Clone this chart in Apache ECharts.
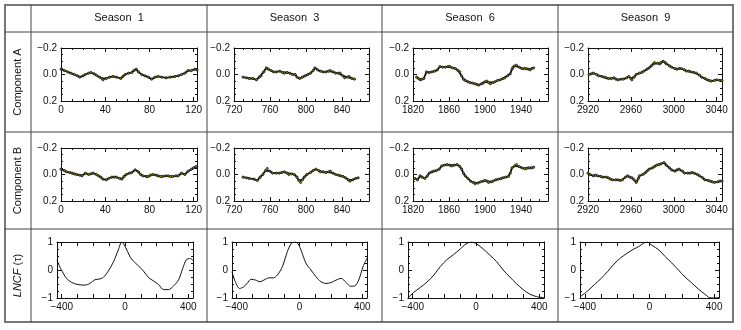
<!DOCTYPE html>
<html>
<head>
<meta charset="utf-8">
<title>Season components and LNCF</title>
<script src="https://cdn.jsdelivr.net/npm/echarts@6/dist/echarts.min.js"></script>
<style>
  body { margin: 0; background: #fff; }
  #chart { width: 741px; height: 330px; }
</style>
</head>
<body>
<div id="chart"></div>
<script>
// column / row titles
var seasons = ['Season  1', 'Season  3', 'Season  6', 'Season  9'];
var rowTitles = ['Component A', 'Component B', '{i|LNCF} (\u03c4)'];

// x ranges of the component plots (time axis)
var xMins = [0, 720, 1820, 2920];
var xMaxs = [123, 870, 1970, 3045];

// component A, one array per season  [time, value]
var s1A = [[0,-0.04],[3,-0.03],[6,-0.02],[9,-0.01],[12,0.0],[15,0.01],[17,0.02],[20,0.01],[22,0.0],[25,-0.01],[27,-0.015],[30,-0.005],[32,0.005],[35,0.02],[37,0.03],[38,0.04],[41,0.03],[44,0.02],[47,0.015],[50,0.02],[54,0.03],[56,0.015],[58,0.0],[61,-0.01],[64,-0.015],[66,-0.03],[68,-0.04],[70,-0.02],[73,0.0],[76,0.01],[79,0.02],[82,0.035],[85,0.02],[88,0.015],[91,0.02],[95,0.025],[99,0.02],[103,0.015],[106,0.01],[109,0.0],[112,-0.01],[115,-0.03],[118,-0.03],[121,-0.04],[123,-0.035]];
var s3A = [[730,0.02],[734,0.025],[737,0.03],[741,0.03],[745,0.04],[748,0.02],[750,0.01],[753,-0.02],[756,-0.05],[758,-0.04],[761,-0.03],[764,-0.02],[767,-0.02],[771,-0.025],[774,-0.015],[776,-0.01],[779,-0.015],[782,-0.01],[785,0.0],[788,0.0],[790,0.02],[793,0.03],[796,0.02],[799,0.01],[802,0.0],[805,-0.01],[808,-0.03],[810,-0.05],[813,-0.035],[816,-0.025],[819,-0.02],[822,-0.02],[825,-0.025],[827,-0.03],[830,-0.02],[833,-0.01],[836,-0.01],[838,-0.01],[841,0.01],[843,0.025],[846,0.02],[848,0.015],[851,0.03],[854,0.035]];
var s6A = [[1824,0.02],[1826,0.03],[1828,0.04],[1830,0.035],[1832,0.03],[1835,-0.02],[1838,-0.015],[1841,-0.02],[1844,-0.025],[1847,-0.035],[1850,-0.06],[1853,-0.055],[1856,-0.055],[1859,-0.06],[1861,-0.06],[1864,-0.05],[1867,-0.045],[1870,-0.03],[1872,-0.02],[1874,0.01],[1876,0.035],[1878,0.045],[1881,0.055],[1883,0.06],[1886,0.065],[1889,0.07],[1891,0.075],[1893,0.08],[1896,0.07],[1898,0.065],[1900,0.055],[1902,0.05],[1904,0.06],[1906,0.07],[1909,0.06],[1911,0.055],[1914,0.045],[1917,0.04],[1920,0.03],[1922,0.025],[1925,0.01],[1928,-0.005],[1930,-0.04],[1931,-0.055],[1933,-0.065],[1935,-0.07],[1938,-0.055],[1941,-0.045],[1944,-0.045],[1946,-0.045],[1948,-0.04],[1950,-0.035],[1952,-0.045],[1954,-0.05]];
var s9A = [[2921,0.0],[2923,-0.005],[2925,-0.01],[2928,0.0],[2930,0.01],[2933,0.015],[2935,0.02],[2937,0.025],[2939,0.03],[2942,0.03],[2944,0.025],[2946,0.035],[2948,0.04],[2951,0.035],[2953,0.035],[2956,0.025],[2958,0.015],[2960,0.03],[2961,0.04],[2963,0.02],[2965,0.0],[2968,-0.01],[2970,-0.015],[2972,-0.025],[2975,-0.04],[2977,-0.05],[2979,-0.065],[2981,-0.08],[2982,-0.09],[2985,-0.085],[2987,-0.08],[2988,-0.09],[2990,-0.1],[2992,-0.09],[2993,-0.08],[2996,-0.065],[2998,-0.055],[3001,-0.045],[3003,-0.04],[3005,-0.045],[3007,-0.045],[3010,-0.035],[3012,-0.025],[3014,-0.025],[3016,-0.02],[3019,-0.015],[3021,-0.01],[3024,0.005],[3026,0.02],[3029,0.03],[3031,0.04],[3033,0.045],[3035,0.05],[3038,0.045],[3040,0.04],[3043,0.045],[3045,0.045]];

// component B, one array per season
var s1B = [[0,-0.04],[3,-0.03],[5,-0.02],[8,-0.015],[10,-0.01],[12,-0.005],[14,0.0],[17,0.005],[19,0.01],[22,-0.01],[25,0.0],[27,-0.005],[29,-0.01],[32,0.0],[34,0.01],[36,0.02],[38,0.035],[41,0.04],[43,0.03],[46,0.02],[48,0.02],[50,0.02],[53,0.03],[55,0.035],[57,0.015],[59,0.0],[62,-0.01],[64,-0.015],[67,-0.035],[70,-0.02],[72,0.0],[74,0.01],[77,0.015],[79,0.015],[81,0.005],[83,0.0],[86,0.005],[88,0.01],[90,0.015],[92,0.015],[95,0.01],[97,0.01],[99,0.015],[101,0.015],[104,0.01],[106,0.01],[109,-0.01],[112,0.0],[115,-0.025],[118,-0.04],[120,-0.05],[122,-0.06]];
var s3B = [[730,0.02],[734,0.025],[737,0.03],[742,0.035],[746,0.045],[749,0.02],[752,0.0],[755,-0.03],[757,-0.045],[760,-0.025],[763,-0.01],[767,-0.01],[770,-0.01],[773,-0.015],[776,-0.02],[779,-0.01],[781,0.0],[784,-0.005],[787,0.0],[790,0.02],[792,0.045],[794,0.06],[796,0.04],[798,0.02],[801,0.0],[805,-0.015],[808,-0.03],[811,-0.04],[814,-0.03],[816,-0.02],[819,-0.02],[822,-0.015],[825,-0.02],[827,-0.025],[830,-0.01],[833,0.0],[836,0.005],[838,0.01],[841,0.015],[844,0.025],[847,0.04],[849,0.05],[852,0.04],[855,0.03],[858,0.025]];
var s6B = [[1822,0.03],[1825,0.04],[1828,0.01],[1830,0.02],[1833,0.03],[1836,0.01],[1838,-0.01],[1841,-0.02],[1843,-0.025],[1846,-0.03],[1849,-0.04],[1852,-0.065],[1855,-0.07],[1858,-0.075],[1861,-0.07],[1863,-0.065],[1866,-0.07],[1869,-0.075],[1872,-0.06],[1874,-0.04],[1876,-0.01],[1878,0.01],[1881,0.03],[1884,0.05],[1887,0.06],[1889,0.07],[1892,0.065],[1895,0.055],[1898,0.05],[1900,0.045],[1902,0.05],[1904,0.06],[1907,0.055],[1909,0.05],[1912,0.04],[1915,0.035],[1918,0.03],[1920,0.025],[1923,0.02],[1926,0.015],[1928,-0.01],[1930,-0.05],[1933,-0.065],[1935,-0.075],[1938,-0.06],[1941,-0.05],[1944,-0.045],[1946,-0.045],[1948,-0.05],[1950,-0.05],[1952,-0.05],[1954,-0.055]];
var s9B = [[2920,-0.01],[2922,0.0],[2925,0.01],[2927,0.005],[2929,0.01],[2932,0.015],[2934,0.02],[2937,0.02],[2939,0.025],[2941,0.035],[2943,0.04],[2946,0.04],[2948,0.04],[2950,0.045],[2952,0.04],[2955,0.02],[2957,0.01],[2959,0.02],[2961,0.025],[2963,0.04],[2965,0.06],[2967,0.03],[2968,0.01],[2971,0.0],[2973,-0.01],[2975,-0.025],[2977,-0.04],[2980,-0.05],[2982,-0.06],[2984,-0.07],[2986,-0.075],[2988,-0.08],[2991,-0.09],[2993,-0.07],[2996,-0.05],[2998,-0.035],[3001,-0.025],[3003,-0.035],[3005,-0.04],[3008,-0.025],[3010,-0.01],[3013,-0.01],[3015,-0.01],[3017,-0.015],[3019,-0.01],[3022,0.0],[3024,0.01],[3027,0.025],[3029,0.04],[3032,0.045],[3034,0.05],[3036,0.055],[3038,0.06],[3041,0.055],[3043,0.05],[3045,0.05]];

// LNCF per season  [lag, value]
var lncf1 = [[-430,0.34],[-402,0.0],[-371,-0.29],[-339,-0.44],[-297,-0.52],[-254,-0.54],[-222,-0.48],[-191,-0.35],[-159,-0.32],[-138,-0.27],[-106,-0.04],[-74,0.28],[-42,0.72],[-21,1.0],[0,0.85],[32,0.47],[53,0.32],[85,0.15],[117,-0.04],[149,-0.27],[180,-0.39],[212,-0.52],[244,-0.7],[275,-0.7],[307,-0.57],[339,-0.35],[367,0.09],[388,0.37],[413,0.41],[430,0.34]];
var lncf3 = [[-430,-0.06],[-409,-0.42],[-381,-0.66],[-355,-0.6],[-334,-0.48],[-308,-0.33],[-280,-0.36],[-252,-0.42],[-227,-0.36],[-195,-0.28],[-167,-0.28],[-141,-0.18],[-109,0.12],[-77,0.66],[-51,0.96],[-28,1.0],[-8,0.93],[13,0.66],[41,0.24],[73,0.0],[105,-0.24],[137,-0.42],[169,-0.48],[201,-0.45],[233,-0.36],[265,-0.3],[298,-0.45],[325,-0.58],[351,-0.57],[377,-0.36],[405,0.12],[430,0.42]];
var lncf6 = [[-430,-0.99],[-394,-0.8],[-352,-0.62],[-310,-0.43],[-268,-0.19],[-226,0.12],[-184,0.37],[-142,0.55],[-100,0.75],[-63,0.93],[-27,1.0],[4,0.93],[46,0.75],[88,0.53],[130,0.3],[172,0.0],[214,-0.25],[256,-0.49],[298,-0.7],[340,-0.86],[382,-0.95],[430,-0.99]];
var lncf9 = [[-430,-0.96],[-383,-0.75],[-342,-0.53],[-301,-0.31],[-260,-0.06],[-220,0.21],[-179,0.43],[-138,0.6],[-97,0.75],[-66,0.84],[-36,0.96],[-15,1.0],[16,0.88],[57,0.72],[97,0.48],[138,0.25],[179,0.0],[220,-0.25],[261,-0.46],[302,-0.68],[342,-0.86],[373,-0.99],[403,-1.0],[430,-0.98]];

var compA = [s1A, s3A, s6A, s9A];
var compB = [s1B, s3B, s6B, s9B];
var lncf = [lncf1, lncf3, lncf6, lncf9];

var lagTicks = [-400, -300, -200, -100, 0, 100, 200, 300, 400];
var lagLabels = [-400, 0, 400];

// layout of the table and plot boxes
var colEdges = [31, 207, 382, 558, 733];
var rowEdges = [32, 132, 229, 322];
var plotLeft = [[61, 234, 413, 588], [61, 234, 413, 588], [57, 232, 408, 580]];
var plotWidth = [[136, 135, 135, 134], [136, 135, 135, 134], [136, 135, 136, 139]];
var plotTop = [48, 148, 242];
var plotHeight = [53, 53, 56];

var FONT = 'Liberation Sans, Arial, Helvetica, sans-serif';
function minus(s) { return String(s).replace('-', '\u2212'); }

var grids = [], xAxes = [], yAxes = [], series = [];

var axLine = { show: true, onZero: false, lineStyle: { color: '#111', width: 1 } };
var tick = { show: true, inside: true, length: 4, lineStyle: { color: '#111' } };
var minor = { show: true, splitNumber: 4, length: 2, lineStyle: { color: '#111' } };

for (var r = 0; r < 3; r++) {
  for (var c = 0; c < 4; c++) {
    var gi = grids.length;
    grids.push({ left: plotLeft[r][c], top: plotTop[r], width: plotWidth[r][c], height: plotHeight[r] });
    var lab = { show: true, color: '#111', fontFamily: FONT, fontSize: 10, margin: 4 };

    if (r < 2) {
      var xBase = { type: 'value', gridIndex: gi, min: xMins[c], max: xMaxs[c], interval: 40,
        axisLine: axLine, axisTick: tick, minorTick: minor, splitLine: { show: false } };
      xAxes.push(Object.assign({}, xBase, { position: 'bottom',
        axisLabel: Object.assign({}, lab, { showMaxLabel: false, formatter: minus }) }));
      xAxes.push(Object.assign({}, xBase, { position: 'top', axisLabel: { show: false } }));
      var yBase = { type: 'value', gridIndex: gi, min: -0.2, max: 0.2, interval: 0.2, inverse: true,
        axisLine: axLine, axisTick: tick, minorTick: minor, splitLine: { show: false } };
      yAxes.push(Object.assign({}, yBase, { position: 'left',
        axisLabel: Object.assign({}, lab, { formatter: function (v) { return minus(v.toFixed(1)); } }) }));
      yAxes.push(Object.assign({}, yBase, { position: 'right', axisLabel: { show: false } }));
      series.push({
        type: 'line', xAxisIndex: 2 * gi, yAxisIndex: 2 * gi,
        data: r === 0 ? compA[c] : compB[c],
        symbol: 'circle', symbolSize: 2.2, showSymbol: true,
        lineStyle: { color: '#111', width: 1.8 },
        itemStyle: { color: '#8f8f2a', borderColor: '#111', borderWidth: 0.8 },
        animation: false, silent: true
      });
    } else {
      var lagTick = Object.assign({}, tick, { customValues: lagTicks });
      var xl = { type: 'value', gridIndex: gi, min: -430, max: 430,
        axisLine: axLine, splitLine: { show: false } };
      xAxes.push(Object.assign({}, xl, { position: 'bottom', axisTick: lagTick,
        axisLabel: Object.assign({}, lab, { customValues: lagLabels, formatter: minus }) }));
      xAxes.push(Object.assign({}, xl, { position: 'top', axisTick: lagTick, axisLabel: { show: false } }));
      var yl = { type: 'value', gridIndex: gi, min: -1, max: 1, interval: 1,
        axisLine: axLine, axisTick: tick, minorTick: minor, splitLine: { show: false } };
      yAxes.push(Object.assign({}, yl, { position: 'left',
        axisLabel: Object.assign({}, lab, { formatter: minus }) }));
      yAxes.push(Object.assign({}, yl, { position: 'right', axisLabel: { show: false } }));
      series.push({
        type: 'line', xAxisIndex: 2 * gi, yAxisIndex: 2 * gi,
        data: lncf[c], smooth: 0.3, showSymbol: false,
        lineStyle: { color: '#111', width: 1 },
        animation: false, silent: true
      });
    }
  }
}

// table frame, headers and row titles
var graphics = [];
graphics.push({ type: 'rect', shape: { x: 5, y: 5, width: 728, height: 317 },
  style: { fill: null, stroke: '#777', lineWidth: 2 }, silent: true });
for (var i = 0; i < 4; i++) {
  graphics.push({ type: 'line', shape: { x1: colEdges[i], y1: 5, x2: colEdges[i], y2: 322 },
    style: { stroke: '#444', lineWidth: 1 }, silent: true });
  graphics.push({ type: 'text', x: (colEdges[i] + colEdges[i + 1]) / 2, y: 18,
    style: { text: seasons[i], font: '11px ' + FONT, fill: '#111', align: 'center', verticalAlign: 'middle' } });
}
for (var j = 0; j < 3; j++) {
  graphics.push({ type: 'line', shape: { x1: 5, y1: rowEdges[j], x2: 733, y2: rowEdges[j] },
    style: { stroke: '#444', lineWidth: 1 }, silent: true });
  graphics.push({ type: 'text', x: 18, y: (rowEdges[j] + rowEdges[j + 1]) / 2, rotation: Math.PI / 2,
    style: { text: rowTitles[j], font: '11px ' + FONT, fill: '#111', align: 'center', verticalAlign: 'middle',
      rich: { i: { fontStyle: 'italic', fontSize: 11, fontFamily: FONT } } } });
}

var chart = echarts.init(document.getElementById('chart'));
chart.setOption({
  backgroundColor: '#fff',
  animation: false,
  grid: grids,
  xAxis: xAxes,
  yAxis: yAxes,
  series: series,
  graphic: graphics
});
</script>
</body>
</html>
